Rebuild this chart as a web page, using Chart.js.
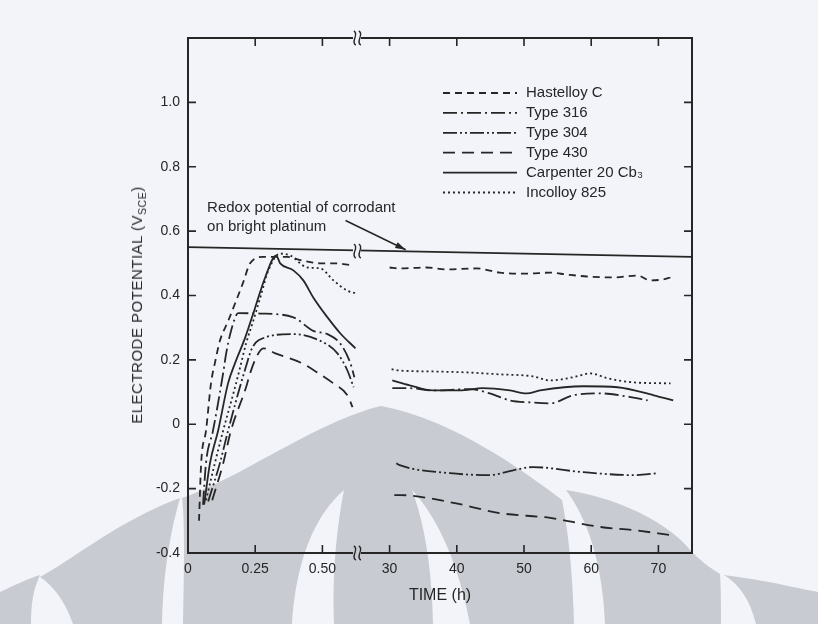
<!DOCTYPE html>
<html>
<head>
<meta charset="utf-8">
<script src="https://cdn.jsdelivr.net/npm/chart.js@4.4.0/dist/chart.umd.min.js"></script>
<style>
  html, body { margin: 0; padding: 0; background: #f3f4fa; }
  #wrap { position: relative; width: 818px; height: 624px; overflow: hidden; }
  #wm, #chart { position: absolute; left: 0; top: 0; }
  #ylab {
    position: absolute; left: 138px; top: 305px;
    transform: translate(-50%, -50%) rotate(-90deg);
    white-space: nowrap; font: 15px 'Liberation Sans', Arial, sans-serif;
    letter-spacing: 0.5px; color: #2a2a2a;
  }
  #ylab sub { font-size: 70%; }
</style>
</head>
<body>
<div id="wrap">
  <!-- marca de agua del escaneo -->
  <svg id="wm" width="818" height="624" viewBox="0 0 818 624">
    <g fill="#c9cbd3">
      <path d="M0,592 C15,585 30,578 40,575 C33,590 31,605 31,624 L0,624 Z"/>
      <path d="M73,624 C65,600 52,585 40,577 C75,558 120,520 180,498 C168,540 163,580 162,624 Z"/>
      <path d="M183,624 C184,570 185,520 182,498 C240,478 320,420 381,406 C445,418 510,460 562,500 C570,540 573,585 574,624 Z"/>
      <path d="M605,624 C603,570 590,522 566,490 C615,497 668,522 690,550 C705,565 714,570 720,574 C721,590 721,605 721,624 Z"/>
      <path d="M756,624 C750,600 740,585 724,575 C765,580 795,588 818,592 L818,624 Z"/>
    </g>
    <g fill="#f3f4fa">
      <path d="M292,624 C296,560 315,515 344,490 C336,530 332,580 334,624 Z"/>
      <path d="M412,490 C440,520 460,570 470,624 L433,624 C432,570 425,525 412,490 Z"/>
    </g>
  </svg>
  <canvas id="chart" width="818" height="624"></canvas>
  <div id="ylab">ELECTRODE POTENTIAL (V<sub>SCE</sub>)</div>
</div>
<script>
// Potencial vs tiempo, eje de tiempo partido: 0-0.6 h | 30-75 h
// cada serie: [tiempo h, potencial V]
const hastelloyShort = [[0.041,-0.30],[0.049,-0.12],[0.067,-0.02],[0.086,0.13],[0.10,0.19],[0.119,0.26],[0.149,0.32],[0.175,0.375],[0.205,0.44],[0.231,0.50],[0.28,0.52],[0.37,0.52],[0.418,0.51],[0.493,0.50],[0.548,0.50],[0.604,0.495]];
const hastelloyLong = [[30,0.487],[31.5,0.484],[35.5,0.487],[38.5,0.481],[43,0.484],[46.4,0.471],[50.4,0.468],[53.9,0.471],[56.4,0.465],[59.4,0.459],[63.3,0.456],[66.9,0.462],[68.8,0.447],[70.7,0.45],[71.8,0.456]];

const type316Short = [[0.056,-0.25],[0.067,-0.12],[0.093,-0.02],[0.131,0.16],[0.142,0.22],[0.16,0.29],[0.187,0.345],[0.269,0.344],[0.392,0.332],[0.466,0.29],[0.519,0.28],[0.567,0.25],[0.604,0.19],[0.619,0.146]];
const type316Long = [[30.4,0.112],[33,0.112],[36.4,0.105],[41.9,0.109],[44.9,0.096],[47.9,0.074],[50.9,0.068],[53.9,0.065],[57.3,0.09],[61.3,0.096],[65.1,0.087],[68.4,0.074]];

const type304Short = [[0.075,-0.24],[0.119,-0.12],[0.149,-0.02],[0.198,0.13],[0.216,0.18],[0.235,0.23],[0.261,0.26],[0.39,0.28],[0.49,0.26],[0.556,0.22],[0.593,0.167],[0.616,0.115]];
const type304Long = [[31,-0.121],[31.5,-0.127],[39,-0.152],[44.9,-0.158],[48.4,-0.143],[51.3,-0.133],[58.8,-0.149],[66.3,-0.158],[70,-0.152]];

const type430Short = [[0.09,-0.236],[0.131,-0.121],[0.16,-0.019],[0.216,0.115],[0.231,0.158],[0.254,0.208],[0.28,0.236],[0.325,0.22],[0.418,0.192],[0.481,0.161],[0.541,0.127],[0.593,0.09],[0.612,0.053]];
const type430Long = [[30.7,-0.22],[31.5,-0.22],[39,-0.242],[46.4,-0.276],[53.9,-0.291],[61.3,-0.319],[66.3,-0.329],[71.8,-0.344]];

const carpenterShort = [[0.06,-0.25],[0.082,-0.12],[0.112,-0.02],[0.149,0.127],[0.175,0.19],[0.213,0.27],[0.25,0.363],[0.287,0.456],[0.328,0.524],[0.343,0.50],[0.392,0.478],[0.429,0.447],[0.466,0.394],[0.519,0.332],[0.567,0.282],[0.623,0.236]];
const carpenterLong = [[30.4,0.136],[33,0.121],[36.4,0.105],[40.4,0.105],[43.9,0.112],[47.9,0.105],[50.4,0.096],[52.4,0.105],[58.8,0.118],[63.9,0.115],[69.3,0.09],[72.2,0.074]];

const incolloyShort = [[0.067,-0.236],[0.10,-0.121],[0.131,-0.019],[0.175,0.115],[0.194,0.177],[0.216,0.251],[0.243,0.322],[0.269,0.394],[0.299,0.478],[0.343,0.53],[0.381,0.524],[0.444,0.487],[0.493,0.484],[0.541,0.447],[0.593,0.415],[0.63,0.406]];
const incolloyLong = [[30.3,0.171],[31.5,0.167],[36.4,0.164],[41.5,0.161],[46.4,0.155],[51.3,0.149],[53.9,0.136],[57.3,0.146],[59.9,0.158],[62.4,0.143],[66.3,0.13],[71.8,0.127]];

// potencial redox del corrosivo sobre platino
const redoxLine = [[0,0.55],[75,0.52]];

const xTickTimes = [0, 0.25, 0.5, 30, 40, 50, 60, 70];
const xTickLabels = ['0', '0.25', '0.50', '30', '40', '50', '60', '70'];
const yTickValues = [-0.4, -0.2, 0, 0.2, 0.4, 0.6, 0.8, 1.0];
const yTickLabels = ['-0.4', '-0.2', '0', '0.2', '0.4', '0.6', '0.8', '1.0'];

const INK = '#262626';
const FONT = "'Liberation Sans', Arial, sans-serif";

// tiempo -> posicion en el eje partido
function axisPos(t) {
  return t <= 1 ? t / 0.25 : 3 + (t - 30) / 10;
}
const BREAK_POS = 2.52;

const series = [
  { name: 'Hastelloy C', dash: [7, 5], a: hastelloyShort, b: hastelloyLong },
  { name: 'Type 316', dash: [14, 4, 2, 4], a: type316Short, b: type316Long },
  { name: 'Type 304', dash: [14, 3, 2, 3, 2, 3], a: type304Short, b: type304Long },
  { name: 'Type 430', dash: [12, 7], a: type430Short, b: type430Long },
  { name: 'Carpenter 20 Cb\u2083', dash: [], a: carpenterShort, b: carpenterLong },
  { name: 'Incolloy 825', dash: [2, 3], a: incolloyShort, b: incolloyLong }
];

const toXY = p => ({ x: axisPos(p[0]), y: p[1] });

const datasets = series.map(s => ({
  label: s.name,
  data: s.a.map(toXY).concat([{ x: axisPos(1), y: null }], s.b.map(toXY)),
  borderColor: INK,
  borderWidth: 1.8,
  borderDash: s.dash,
  pointRadius: 0,
  cubicInterpolationMode: 'monotone',
  spanGaps: false
}));
datasets.push({
  label: 'redox',
  data: redoxLine.map(toXY),
  borderColor: INK,
  borderWidth: 1.8,
  pointRadius: 0,
  tension: 0
});

// marco con marcas hacia dentro, cortes del eje, leyenda y anotacion
const decor = {
  id: 'decor',
  afterDatasetsDraw(chart) {
    const ctx = chart.ctx;
    const a = chart.chartArea;
    const xs = chart.scales.x, ys = chart.scales.y;
    ctx.save();
    ctx.strokeStyle = INK;
    ctx.lineWidth = 2;
    ctx.setLineDash([]);
    ctx.strokeRect(a.left, a.top, a.right - a.left, a.bottom - a.top);

    ctx.lineWidth = 1.6;
    xTickTimes.forEach(t => {
      if (t === 0) return;
      const px = xs.getPixelForValue(axisPos(t));
      ctx.beginPath();
      ctx.moveTo(px, a.bottom); ctx.lineTo(px, a.bottom - 8);
      ctx.moveTo(px, a.top); ctx.lineTo(px, a.top + 8);
      ctx.stroke();
    });
    yTickValues.forEach(v => {
      if (v === -0.4) return;
      const py = ys.getPixelForValue(v);
      ctx.beginPath();
      ctx.moveTo(a.left, py); ctx.lineTo(a.left + 8, py);
      ctx.moveTo(a.right, py); ctx.lineTo(a.right - 8, py);
      ctx.stroke();
    });

    // cortes del eje de tiempo
    const bx = xs.getPixelForValue(BREAK_POS);
    const redoxY = ys.getPixelForValue(0.55 + (0.52 - 0.55) * 30 / 75);
    [a.top, redoxY, a.bottom].forEach(y => {
      ctx.clearRect(bx - 4, y - 2, 8, 4);
      ctx.lineWidth = 1.4;
      [-2.5, 2.5].forEach(dx => {
        const x = bx + dx;
        ctx.beginPath();
        ctx.moveTo(x - 1, y - 7);
        ctx.bezierCurveTo(x + 5, y - 4, x - 5, y + 4, x + 1, y + 7);
        ctx.stroke();
      });
    });

    // anotacion
    ctx.fillStyle = INK;
    ctx.font = '15px ' + FONT;
    ctx.textBaseline = 'middle';
    ctx.textAlign = 'left';
    const tx = xs.getPixelForValue(axisPos(0.071));
    ctx.fillText('Redox potential of corrodant', tx, ys.getPixelForValue(0.673));
    ctx.fillText('on bright platinum', tx, ys.getPixelForValue(0.614));
    const x0 = xs.getPixelForValue(axisPos(0.586)), y0 = ys.getPixelForValue(0.633);
    const x1 = xs.getPixelForValue(axisPos(32.4)), y1 = ys.getPixelForValue(0.542);
    ctx.lineWidth = 1.5;
    ctx.beginPath(); ctx.moveTo(x0, y0); ctx.lineTo(x1, y1); ctx.stroke();
    const ang = Math.atan2(y1 - y0, x1 - x0);
    ctx.beginPath();
    ctx.moveTo(x1, y1);
    ctx.lineTo(x1 - 11 * Math.cos(ang - 0.3), y1 - 11 * Math.sin(ang - 0.3));
    ctx.lineTo(x1 - 11 * Math.cos(ang + 0.3), y1 - 11 * Math.sin(ang + 0.3));
    ctx.closePath(); ctx.fill();

    // leyenda
    const lx = 443, len = 74, textX = 526, top = 93, gap = 19.9;
    series.forEach((s, i) => {
      const y = top + i * gap;
      ctx.setLineDash(s.dash);
      ctx.lineWidth = 1.8;
      ctx.beginPath(); ctx.moveTo(lx, y); ctx.lineTo(lx + len, y); ctx.stroke();
      ctx.setLineDash([]);
      ctx.fillText(s.name, textX, y);
    });
    ctx.restore();
  }
};

new Chart(document.getElementById('chart'), {
  type: 'line',
  data: { datasets },
  plugins: [decor],
  options: {
    responsive: false,
    animation: false,
    layout: { padding: { top: 38, right: 126, left: 0, bottom: 0 } },
    plugins: { legend: { display: false }, tooltip: { enabled: false } },
    scales: {
      x: {
        type: 'linear',
        min: 0,
        max: axisPos(75),
        afterFit: s => { s.height = 71; },
        afterBuildTicks: s => { s.ticks = xTickTimes.map(t => ({ value: axisPos(t) })); },
        grid: { display: false, drawTicks: false },
        border: { display: false },
        ticks: {
          autoSkip: false, maxRotation: 0, padding: 8, color: INK,
          font: { family: FONT, size: 14 },
          callback: (v, i) => xTickLabels[i]
        },
        title: {
          display: true, text: 'TIME (h)', color: INK,
          font: { family: FONT, size: 16 },
          padding: { top: 4, bottom: 19 }
        }
      },
      y: {
        min: -0.4,
        max: 1.2,
        afterFit: s => { s.width = 188; },
        afterBuildTicks: s => { s.ticks = yTickValues.map(v => ({ value: v })); },
        grid: { display: false, drawTicks: false },
        border: { display: false },
        ticks: {
          autoSkip: false, padding: 8, color: INK,
          font: { family: FONT, size: 14 },
          callback: (v, i) => yTickLabels[i]
        }
      }
    }
  }
});
</script>
</body>
</html>
